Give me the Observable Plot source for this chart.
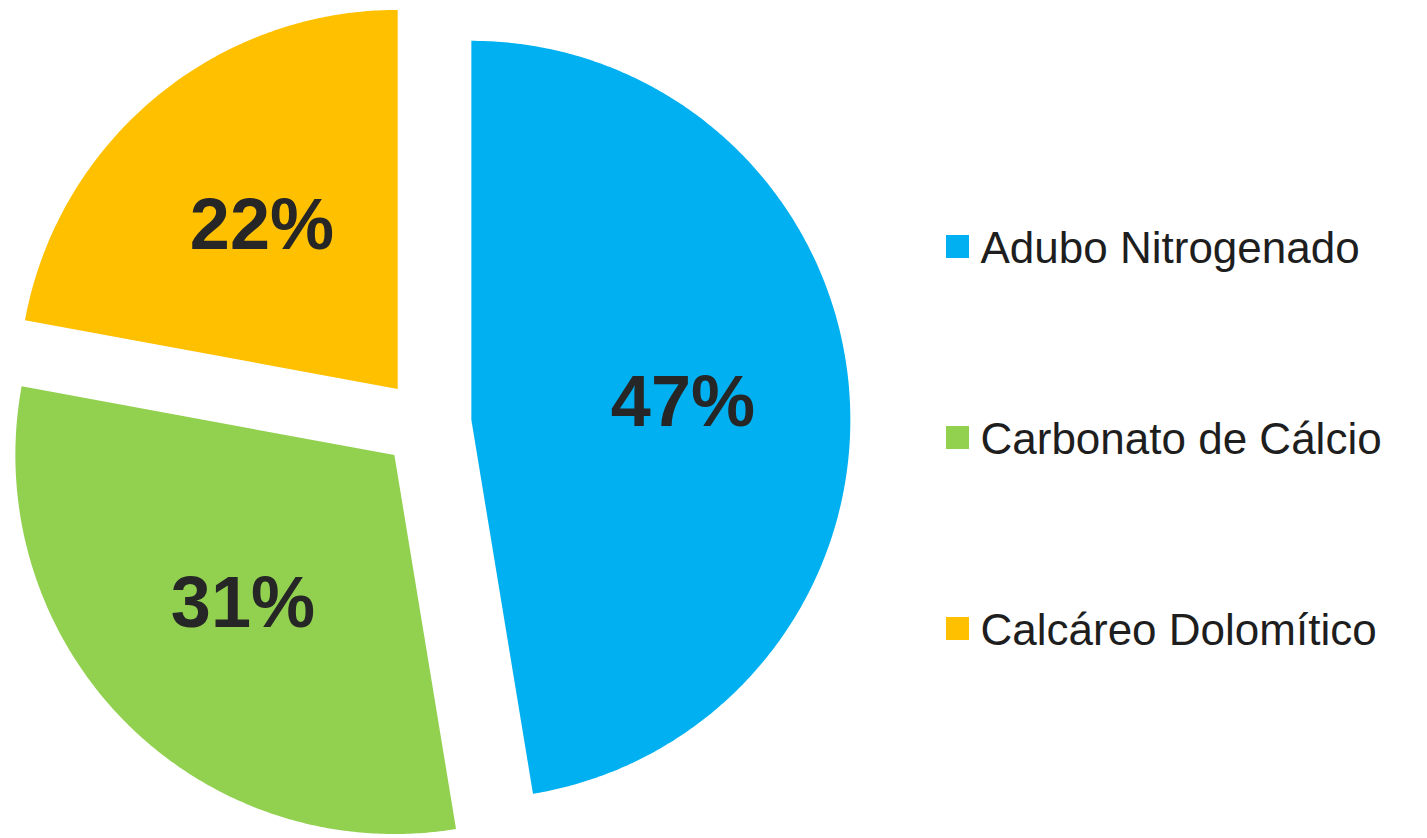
<!DOCTYPE html>
<html>
<head>
<meta charset="utf-8">
<script src="https://cdn.jsdelivr.net/npm/d3@7"></script>
<script src="https://cdn.jsdelivr.net/npm/@observablehq/plot@0.6"></script>
<style>
  html, body { margin: 0; padding: 0; background: #ffffff; }
  #chart { width: 1427px; height: 838px; }
</style>
</head>
<body>
<div id="chart"></div>
<script>
// ---- Data ----
const categories = ["Adubo Nitrogenado", "Carbonato de Cálcio", "Calcáreo Dolomítico"];
const values = [47.4, 30.5, 22.1];
const colors = ["#00B0F0", "#92D050", "#FFC000"];

// ---- Layout (pixel geometry of the pie) ----
const W = 1427, H = 838;
const cx = 426, cy = 423, R = 379, explode = 45, labelFrac = 0.56;
const legendX = 957, legendY0 = 246, legendStep = 191;

const total = d3.sum(values);
const pieArcs = [];
let acc = 0;
values.forEach((v, i) => {
  const a0 = acc / total * 2 * Math.PI;
  acc += v;
  const a1 = acc / total * 2 * Math.PI;
  pieArcs.push({name: categories[i], value: v, a0, a1, mid: (a0 + a1) / 2});
});

// polygon points for each slice (angles clockwise from 12 o'clock)
const slicePts = [];
const labels = [];
pieArcs.forEach(s => {
  const tx = cx + explode * Math.sin(s.mid);
  const ty = cy - explode * Math.cos(s.mid);
  slicePts.push({name: s.name, x: tx, y: ty});
  const n = Math.max(2, Math.ceil((s.a1 - s.a0) / (Math.PI / 360)));
  for (let k = 0; k <= n; k++) {
    const a = s.a0 + (s.a1 - s.a0) * k / n;
    slicePts.push({name: s.name, x: tx + R * Math.sin(a), y: ty - R * Math.cos(a)});
  }
  slicePts.push({name: s.name, x: tx, y: ty});
  labels.push({
    name: s.name,
    text: Math.round(s.value) + "%",
    x: tx + labelFrac * R * Math.sin(s.mid),
    y: ty - labelFrac * R * Math.cos(s.mid)
  });
});

const legend = categories.map((c, i) => ({name: c, x: legendX, y: legendY0 + i * legendStep}));

const chart = Plot.plot({
  width: W,
  height: H,
  margin: 0,
  style: {background: "#ffffff", overflow: "visible"},
  x: {domain: [0, W], range: [0, W], axis: null},
  y: {domain: [0, H], range: [0, H], axis: null},
  color: {domain: categories, range: colors},
  marks: [
    Plot.line(slicePts, {x: "x", y: "y", z: "name", fill: "name", stroke: "none", curve: "linear"}),
    Plot.text(labels, {
      x: "x", y: "y", text: "text",
      fontFamily: "Liberation Sans, Arial, sans-serif",
      fontWeight: "bold", fontSize: 72, fill: "#262626"
    }),
    Plot.dot(legend, {x: "x", y: "y", symbol: "square", r: 13, fill: "name", stroke: "none"}),
    Plot.text(legend, {
      x: "x", y: "y", text: "name", dx: 23, dy: 2, textAnchor: "start",
      fontFamily: "Liberation Sans, Arial, sans-serif",
      fontSize: 44, fill: "#1e1e1e"
    })
  ]
});
document.getElementById("chart").appendChild(chart);
</script>
</body>
</html>
